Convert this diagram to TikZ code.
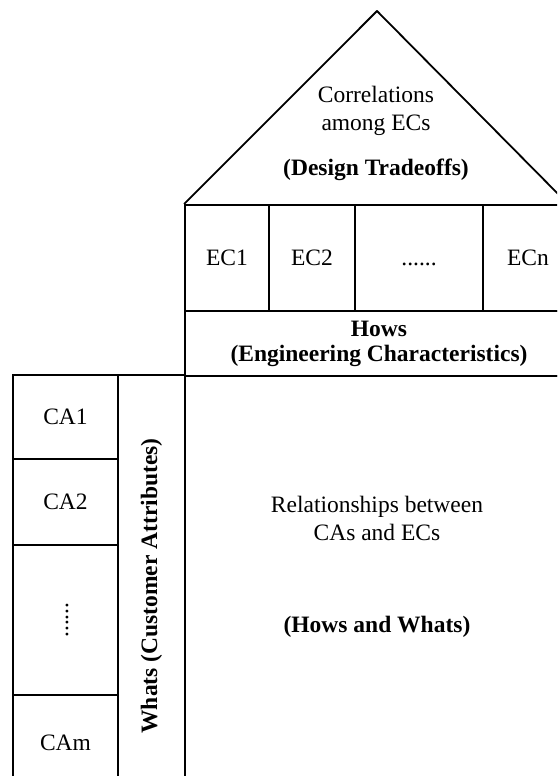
\documentclass[tikz,border=0pt]{standalone}
\usepackage{fontspec}
\setmainfont{Liberation Serif}
\usetikzlibrary{positioning}

\tikzset{
  cell/.style={draw, inner sep=0pt, align=center, text height=15.5pt, text depth=0pt},
  label txt/.style={inner sep=0pt, align=center},
  bold txt/.style={inner sep=0pt, align=center, font=\fontsize{23.5}{25}\selectfont\bfseries},
}

\begin{document}
\begin{tikzpicture}[x=1pt, y=-1pt, line width=1.8pt, font=\fontsize{23.5}{28}\selectfont]
\clip (0,0) rectangle (557,776);
% engineering characteristics row
\node[cell, minimum width=84pt, minimum height=106pt] (ec1) at (227,258) {EC1};
\node[cell, minimum width=86pt, minimum height=106pt] (ec2) at (312,258) {EC2};
\node[cell, minimum width=128pt, minimum height=106pt] (ecdots) at (419,258) {......};
\node[cell, minimum width=90pt, minimum height=106pt] (ecn) at (528,258) {ECn};
\node[cell, minimum width=388pt, minimum height=65pt] (hows) at (379,343.5) {};
\node[bold txt] (howstxt) at (hows) {Hows\\(Engineering Characteristics)};
% roof
\coordinate (apex) at (377,11);
\coordinate (eaves) at (569,205);
\draw[line join=round] (ec1.north west) -- (apex) -- (eaves);
\node[label txt] (corr) at (376,111) {Correlations\\among ECs};
\node[bold txt] (trade) at (376,170) {(Design Tradeoffs)};
% relationship matrix
\node[cell, minimum width=388pt, minimum height=414pt] (rel) at (379,583) {};
\node[label txt] (reltxt) at (377,518.5) {Relationships between\\CAs and ECs};
\node[bold txt] (hw) at (377,627) {(Hows and Whats)};
% customer attributes column
\node[cell, minimum width=105pt, minimum height=84pt] (ca1) at (65.5,417) {CA1};
\node[cell, minimum width=105pt, minimum height=86pt] (ca2) at (65.5,502) {CA2};
\node[draw, inner sep=0pt, minimum width=105pt, minimum height=150pt] (cadots) at (65.5,620) {};
\node[inner sep=0pt, rotate=90] (cadotstxt) at (67,620) {......};
\node[cell, minimum width=105pt, minimum height=95pt] (cam) at (65.5,742.5) {CAm};
\node[cell, minimum width=67pt, minimum height=415pt] (whats) at (151.5,582.5) {};
\node[bold txt, rotate=90] (whatstxt) at (151.5,586) {Whats (Customer Attributes)};
\end{tikzpicture}
\end{document}
